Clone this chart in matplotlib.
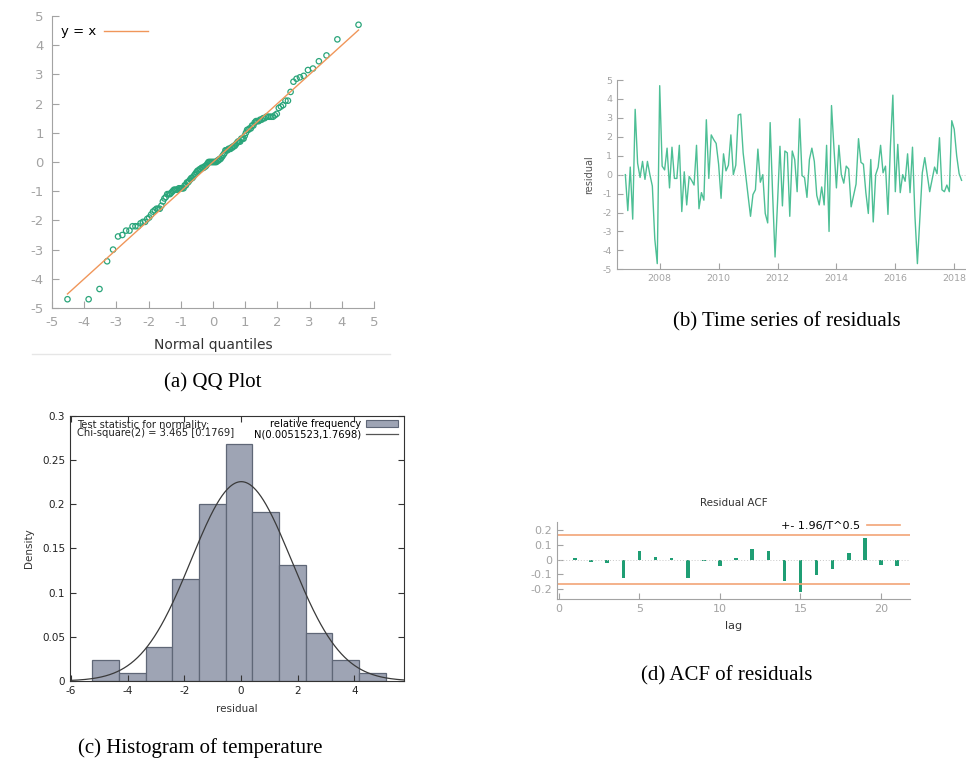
import matplotlib
matplotlib.use("Agg")
import matplotlib.pyplot as plt
import numpy as np
from statistics import NormalDist
from matplotlib.lines import Line2D
from matplotlib.patches import Patch

# ---------------- data ----------------
residuals = [
    0.0, -1.9, 0.4, -2.35, 3.45, 0.6, -0.15, 0.7, -0.25, 0.7,
    0.0, -0.6, -3.4, -4.7, 4.7, 0.45, 0.25, 1.4, -0.7, 1.45,
    -0.2, -0.2, 1.55, -1.95, 0.15, -1.6, -0.1, -0.3, -0.55, 1.55,
    -1.8, -0.95, -1.35, 2.9, -0.2, 2.1, 1.85, 1.65, 0.55, -1.25,
    1.1, 0.2, 0.5, 2.1, 0.0, 0.5, 3.15, 3.2, 1.15, 0.0,
    -1.1, -2.2, -1.05, -0.8, 1.35, -0.4, 0.0, -2.05, -2.55, 2.75,
    -1.0, -4.35, -1.5, 1.5, -1.65, 1.25, 1.15, -2.2, 1.25, 0.8,
    -0.9, 2.95, -0.05, -0.15, -1.2, 0.8, 1.4, 0.7, -1.1, -1.6,
    -0.65, -1.6, 1.55, -3.0, 3.65, 1.4, -0.7, 1.55, 0.0, -0.45,
    0.45, 0.3, -1.7, -1.1, -0.5, 1.9, 0.65, 0.55, -0.95, -2.05,
    0.8, -2.5, 0.0, 0.4, 1.55, 0.1, 0.45, -2.1, 1.5, 4.2,
    -0.9, 1.6, -0.95, 0.0, -0.35, 1.1, -0.95, 1.45, -2.2, -4.7,
    -2.35, 0.1, 0.9, 0.0, -0.9, -0.25, 0.4, 0.05, 1.95, -0.8,
    -0.9, -0.55, -0.9, 2.85, 2.4, 1.0, 0.05, -0.3,
]
start_year = 2006 + 10 / 12          # first observation (monthly)
qq_scale = 1.683                      # scale of normal quantiles in QQ plot

hist_left_edge = -5.247
hist_bin_width = 0.941
hist_density = [0.0234, 0.0087, 0.0384, 0.1153, 0.1998, 0.2684,
                0.1911, 0.1308, 0.0547, 0.0234, 0.0087]
norm_mean = 0.0051523
norm_sd = 1.7698

acf_lags = list(range(1, 22))
acf_values = [0.013, -0.013, -0.022, -0.127, 0.058, 0.020, 0.013, -0.122,
              -0.009, -0.040, 0.009, 0.071, 0.058, -0.144, -0.218, -0.102,
              -0.062, 0.044, 0.149, -0.036, -0.040]
acf_band = 0.1669

# ---------------- figure ----------------
W, H = 966, 765
plt.rcParams['font.family'] = ['DejaVu Sans']
plt.rcParams['axes.unicode_minus'] = False
fig = plt.figure(figsize=(W / 100, H / 100), dpi=100)

def ax_px(x0, y0, x1, y1):
    return fig.add_axes([x0 / W, 1 - y1 / H, (x1 - x0) / W, (y1 - y0) / H])

GRAY = '#a3a3a3'
GREEN_PT = '#2aa57a'
ORANGE = '#f0965a'

def style_gretl(ax, fs):
    for s in ['top', 'right']:
        ax.spines[s].set_visible(False)
    for s in ['left', 'bottom']:
        ax.spines[s].set_color(GRAY)
        ax.spines[s].set_linewidth(0.8)
    ax.tick_params(direction='in', color=GRAY, labelcolor=GRAY,
                   labelsize=fs, length=5, width=0.8)

# ---- (a) QQ plot ----
ax = ax_px(52, 16, 374, 308)
y_sorted = np.sort(np.array(residuals))
n = len(y_sorted)
nd = NormalDist(0, qq_scale)
x_q = np.array([nd.inv_cdf((i + 0.5) / n) for i in range(n)])
ax.plot([x_q[0], x_q[-1]], [x_q[0], x_q[-1]], color=ORANGE, lw=1.0, label='y = x')
ax.scatter(x_q, y_sorted, s=15, facecolors='none', edgecolors=GREEN_PT, linewidths=0.9)
ax.set_xlim(-5, 5)
ax.set_ylim(-5, 5)
ax.set_xticks(range(-5, 6))
ax.set_yticks(range(-5, 6))
style_gretl(ax, 9.5)
ax.tick_params(pad=6)
ax.set_xlabel('Normal quantiles', fontsize=10, color='#333333', labelpad=6)
ax.legend(loc='upper left', bbox_to_anchor=(0.0, 1.0), frameon=False, markerfirst=False,
          fontsize=9.5, handlelength=3.3, handletextpad=0.6, borderaxespad=0.3)
fig.add_artist(Line2D([32 / W, 390 / W], [1 - 354 / H, 1 - 354 / H], color='#e6e6e6', lw=1))

# ---- (b) Time series ----
ax = ax_px(617, 80, 966, 269.3)
t = start_year + np.arange(len(residuals)) / 12
ax.axhline(0, color='#c8c8c8', lw=0.7, ls=(0, (1, 2)))
ax.plot(t, residuals, color='#4dbf95', lw=1.0)
ax.set_xlim(2006.55, 2018.4)
ax.set_ylim(-5, 5)
ax.set_xticks(range(2008, 2019, 2))
ax.set_yticks(range(-5, 6))
style_gretl(ax, 6.8)
ax.tick_params(length=4)
ax.set_ylabel('residual', fontsize=7, color='#555555', labelpad=6)

# ---- (c) Histogram ----
ax = ax_px(70, 415.7, 404, 681)
edges = hist_left_edge + hist_bin_width * np.arange(len(hist_density))
ax.bar(edges, hist_density, width=hist_bin_width, align='edge',
       color='#9ea4b4', edgecolor='#5f6777', linewidth=0.9)
xs = np.linspace(-6.1, 5.8, 400)
pdf = np.array([NormalDist(norm_mean, norm_sd).pdf(v) for v in xs])
ax.plot(xs, pdf, color='#3a3a3a', lw=0.9)
ax.set_xlim(-6.04, 5.75)
ax.set_ylim(0, 0.3)
ax.set_xticks([-6, -4, -2, 0, 2, 4])
ax.set_yticks([0, 0.05, 0.1, 0.15, 0.2, 0.25, 0.3])
ax.set_yticklabels(['0', '0.05', '0.1', '0.15', '0.2', '0.25', '0.3'])
for s in ax.spines.values():
    s.set_color('#333333')
    s.set_linewidth(0.8)
ax.tick_params(direction='in', top=True, right=True, labelsize=7.5, length=4,
               color='#333333', labelcolor='#222222')
ax.set_xlabel('residual', fontsize=7.5, color='#333333', labelpad=6)
ax.set_ylabel('Density', fontsize=7.5, color='#333333', labelpad=6)
ax.text(0.02, 0.985, 'Test statistic for normality:\nChi-square(2) = 3.465 [0.1769]',
        transform=ax.transAxes, fontsize=7.2, va='top', ha='left', color='#222222',
        linespacing=0.85)
handles = [Patch(facecolor='#9ea4b4', edgecolor='#5f6777', lw=0.8),
           Line2D([], [], color='#555555', lw=0.9)]
ax.legend(handles, ['relative frequency', 'N(0.0051523,1.7698)'], loc='upper right',
          bbox_to_anchor=(1.0, 1.01), frameon=False, markerfirst=False, fontsize=7.2,
          handlelength=3.2, handleheight=0.6, labelspacing=0.0, handletextpad=0.5,
          borderaxespad=0.2)

# ---- (d) ACF ----
ax = ax_px(557, 521.7, 910, 599)
ax.axhline(0, color='#c8c8c8', lw=0.7, ls=(0, (1, 2)))
ax.bar(acf_lags, acf_values, width=0.22, color='#1f9e74')
ax.axhline(acf_band, color='#f2a477', lw=1.2, label='+- 1.96/T^0.5')
ax.axhline(-acf_band, color='#f2a477', lw=1.2)
ax.set_xlim(-0.12, 21.8)
ax.set_ylim(-0.266, 0.257)
ax.set_xticks([0, 5, 10, 15, 20])
ax.set_yticks([-0.2, -0.1, 0, 0.1, 0.2])
ax.set_yticklabels(['-0.2', '-0.1', '0', '0.1', '0.2'])
style_gretl(ax, 8)
ax.tick_params(length=4)
ax.set_xlabel('lag', fontsize=8, color='#333333', labelpad=5)
ax.legend(loc='upper right', bbox_to_anchor=(0.985, 1.07), frameon=False, markerfirst=False,
          fontsize=8, handlelength=3.0, handletextpad=0.6, borderaxespad=0.0)
fig.text(734 / W, 1 - 503 / H, 'Residual ACF', fontsize=7.5, color='#333333',
         ha='center', va='center')

# ---- captions ----
cap = dict(fontsize=15, family='Liberation Serif', ha='center', va='center', color='black')
fig.text(213 / W, 1 - 383 / H, '(a) QQ Plot', **cap)
fig.text(787 / W, 1 - 322 / H, '(b) Time series of residuals', **cap)
fig.text(200 / W, 1 - 748 / H, '(c) Histogram of temperature', **cap)
fig.text(727 / W, 1 - 676 / H, '(d) ACF of residuals', **cap)

fig.savefig('out.png', dpi=100)
